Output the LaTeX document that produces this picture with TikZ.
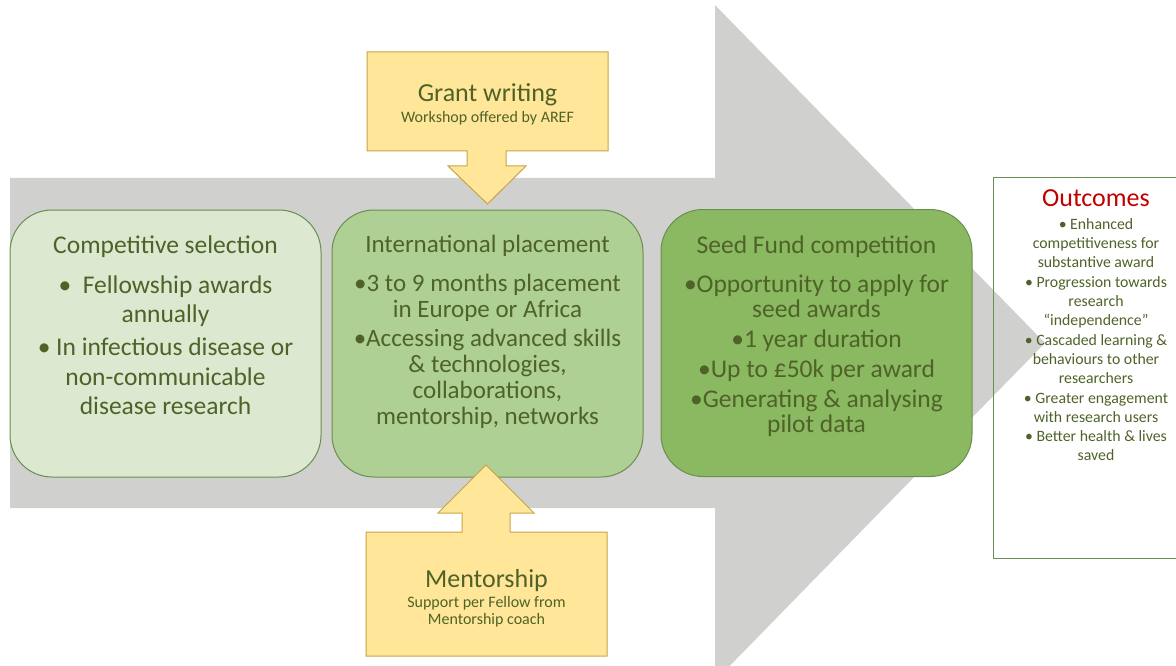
\documentclass[tikz,border=0pt]{standalone}
\usepackage{fontspec}
\setmainfont{Carlito}
\usetikzlibrary{positioning}
\definecolor{arrowgray}{HTML}{D0D1CF}
\definecolor{selfill}{HTML}{DCE9D0}
\definecolor{placefill}{HTML}{AED094}
\definecolor{seedfill}{HTML}{8AB962}
\definecolor{stageline}{HTML}{6B8E4E}
\definecolor{txtgreen}{HTML}{4F6228}
\definecolor{calloutfill}{HTML}{FFE699}
\definecolor{calloutline}{HTML}{C8A444}
\definecolor{outred}{HTML}{C00000}
\begin{document}
\begin{tikzpicture}[x=1pt, y=-1pt, line width=1pt,
stage/.style={draw=stageline, rounded corners=42pt, minimum width=311pt, minimum height=267pt, inner sep=0pt},
stagetext/.style={anchor=north, inner sep=0pt, align=center, text=txtgreen},
callout/.style={fill=calloutfill, draw=calloutline},
callouttext/.style={anchor=north, inner sep=0pt, align=center, text=txtgreen, font=\fontsize{16}{17}\selectfont}]
\useasboundingbox (0,0) rectangle (1176,666);
\fill[arrowgray] (10,178) -- (715,178) -- (715,5) -- (1045,343) -- (715,681) -- (715,508) -- (10,508) -- cycle;
\node [stage, fill=selfill] (select) at (165.5,343.5) {};
\node [stage, fill=placefill] (place) at (487.5,343.5) {};
\node [stage, fill=seedfill] (seed) at (816.5,343) {};
\node [stagetext, font=\fontsize{25.5}{29.5}\selectfont] (selecttext) at (165.5,235) {Competitive selection\\[10.5pt]
  \textbullet\ \ Fellowship awards\\ annually\\[3.5pt]
  \textbullet\ In infectious disease or\\ non-communicable\\ disease research};
\node [stagetext, font=\fontsize{25}{26}\selectfont] (placetext) at (487.5,235) {International placement\\[13pt]
  \textbullet3 to 9 months placement\\ in Europe or Africa\\[3pt]
  \textbullet Accessing advanced skills\\ \& technologies,\\ collaborations,\\ mentorship, networks};
\node [stagetext, font=\fontsize{25.5}{25}\selectfont] (seedtext) at (816.5,235) {Seed Fund competition\\[14pt]
  \textbullet Opportunity to apply for\\ seed awards\\[5pt]
  \textbullet 1 year duration\\[5pt]
  \textbullet Up to £50k per award\\[5pt]
  \textbullet Generating \& analysing\\ pilot data};
\coordinate (granttip) at (487.5,204);
\coordinate (mentortip) at (486,465);
\filldraw[callout] (367,52) -- (608,52) -- (608,151) -- (506,151) -- (506,166) -- (526,166) -- (granttip)
  -- (448,166) -- (467,166) -- (467,151) -- (367,151) -- cycle;
\filldraw[callout] (366,656) -- (366,532) -- (462,532) -- (462,513) -- (438,513) -- (mentortip)
  -- (534,513) -- (510,513) -- (510,532) -- (607,532) -- (607,656) -- cycle;
\node [callouttext] (grant) at (487.5,83) {{\fontsize{26}{30}\selectfont Grant writing}\\[4pt] Workshop offered by AREF};
\node [callouttext] (mentor) at (486.5,568.5) {{\fontsize{26}{30}\selectfont Mentorship}\\[3pt] Support per Fellow from\\ Mentorship coach};
\node [draw=stageline, minimum width=207pt, minimum height=380pt, inner sep=0pt] (outcomes) at (1096.5,368) {};
\node [callouttext, font=\fontsize{15.8}{19.3}\selectfont] (outcomestext) at (1096,189) {{\fontsize{26}{30}\selectfont\color{outred}Outcomes}\\[3.7pt]
  \textbullet\ Enhanced\\ competitiveness for\\ substantive award\\
  \textbullet\ Progression towards\\ research\\ “independence”\\
  \textbullet\ Cascaded learning \&\\ behaviours to other\\ researchers\\
  \textbullet\ Greater engagement\\ with research users\\
  \textbullet\ Better health \& lives\\ saved};
\end{tikzpicture}
\end{document}
